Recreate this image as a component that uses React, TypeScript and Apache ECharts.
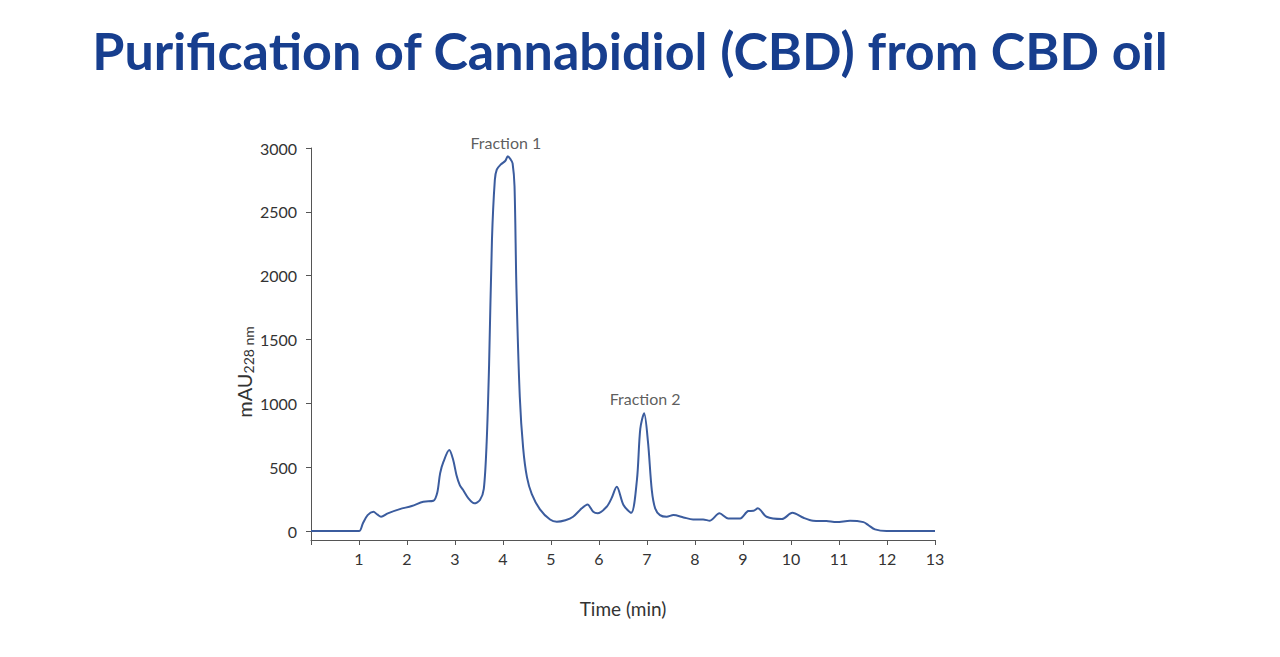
import React, { useEffect, useRef } from "react";
import * as echarts from "echarts";

const TITLE = "Purification of Cannabidiol (CBD) from CBD oil";
const X_NAME = "Time (min)";
const Y_UNIT = "mAU";
const Y_SUB = "228 nm";

const xTicks = [1, 2, 3, 4, 5, 6, 7, 8, 9, 10, 11, 12, 13];
const yTicks = [0, 500, 1000, 1500, 2000, 2500, 3000];

const times = [
  0, 0.5, 1.0, 1.08, 1.18, 1.3, 1.38, 1.46, 1.6, 1.85, 2.1, 2.34, 2.55,
  2.63, 2.69, 2.76, 2.88, 2.96, 3.03, 3.1, 3.17, 3.28, 3.4, 3.52, 3.6,
  3.66, 3.71, 3.77, 3.83, 3.87, 3.95, 4.05, 4.1, 4.16, 4.2, 4.24, 4.28,
  4.35, 4.42, 4.5, 4.6, 4.77, 4.98, 5.12, 5.3, 5.46, 5.64, 5.76, 5.88,
  5.97, 6.16, 6.26, 6.37, 6.51, 6.67, 6.79, 6.86, 6.94, 7.02, 7.1, 7.17,
  7.27, 7.41, 7.55, 7.76, 7.96, 8.17, 8.31, 8.51, 8.69, 8.94, 9.11, 9.22,
  9.31, 9.49, 9.81, 10.03, 10.26, 10.46, 10.74, 10.95, 11.23, 11.51,
  11.61, 11.75, 11.99, 13,
];
const absorbance = [
  0, 0, 0, 60, 125, 151, 130, 112, 139, 172, 196, 230, 237,
  300, 452, 543, 634, 560, 440, 360, 321, 256, 217, 243, 330,
  700, 1300, 2279, 2750, 2830, 2870, 2900, 2935, 2910, 2880, 2700, 1900,
  1050, 650, 420, 290, 170, 90, 73, 85, 112, 178, 209, 151,
  139, 190, 256, 347, 204, 143, 400, 800, 922, 700, 321, 178,
  125, 112, 125, 107, 91, 91, 81, 139, 99, 99, 157, 159,
  178, 112, 94, 143, 104, 81, 78, 70, 81, 70,
  47, 13, 0, 0,
];

const annotations = [
  { label: "Fraction 1", t: 4.06, v: 3040 },
  { label: "Fraction 2", t: 6.96, v: 1042 },
];

const FONT = "Lato, 'Open Sans', sans-serif";

export default function App() {
  const ref = useRef<HTMLDivElement>(null);

  useEffect(() => {
    if (!ref.current) return;
    const chart = echarts.init(ref.current, undefined, { renderer: "svg" });
    const lineData = times.map((t, i) => [t, absorbance[i]]);
    chart.setOption({
      animation: false,
      backgroundColor: "#ffffff",
      textStyle: { fontFamily: FONT },
      graphic: [
        {
          type: "text",
          x: 630,
          y: 50,
          style: {
            text: TITLE,
            fontFamily: FONT,
            fontWeight: "bold",
            fontSize: 52,
            fill: "#173e8e",
            textAlign: "center",
            textVerticalAlign: "middle",
          },
        },
      ],
      grid: { left: 311, right: 345, top: 148, bottom: 117, containLabel: false },
      xAxis: {
        type: "value",
        min: 0,
        max: 13,
        interval: 1,
        name: X_NAME,
        nameLocation: "middle",
        nameGap: 59,
        nameTextStyle: { fontSize: 19, color: "#333", fontFamily: FONT },
        axisLine: { onZero: false, lineStyle: { color: "#555", width: 1 } },
        axisTick: { show: true, length: 5, lineStyle: { color: "#555" } },
        axisLabel: {
          fontSize: 16,
          color: "#333",
          margin: 10,
          fontFamily: FONT,
          formatter: (v: number) => (xTicks.includes(v) ? String(v) : ""),
        },
        splitLine: { show: false },
      },
      yAxis: {
        type: "value",
        min: -70,
        max: 3000,
        name: `{a|${Y_UNIT}}{b|${Y_SUB}}`,
        nameLocation: "middle",
        nameRotate: 90,
        nameGap: 54,
        nameTextStyle: {
          padding: [0, 56, 0, 0],
          rich: {
            a: { fontSize: 20, color: "#333", fontFamily: FONT },
            b: { fontSize: 14, color: "#333", fontFamily: FONT, verticalAlign: "bottom", padding: [10, 0, 0, 0] },
          },
        },
        axisLine: { show: true, lineStyle: { color: "#555", width: 1 } },
        axisTick: { show: true, length: 5, customValues: yTicks, lineStyle: { color: "#555" } },
        axisLabel: {
          fontSize: 16,
          color: "#333",
          margin: 14,
          fontFamily: FONT,
          customValues: yTicks,
          formatter: (v: number) => String(v),
        },
        splitLine: { show: false },
      },
      series: [
        {
          type: "line",
          data: lineData,
          showSymbol: false,
          smooth: 0.3,
          lineStyle: { color: "#3b5c9e", width: 2 },
        },
        {
          type: "scatter",
          clip: false,
          data: annotations.map((a) => ({ value: [a.t, a.v], name: a.label })),
          symbolSize: 0,
          label: {
            show: true,
            position: "inside",
            formatter: (p: any) => p.name,
            fontSize: 16,
            color: "#333",
            fontFamily: FONT,
          },
        },
      ],
    });
    return () => chart.dispose();
  }, []);

  return (
    <div
      ref={ref}
      style={{ position: "fixed", left: 0, top: 0, width: 1280, height: 657 }}
    />
  );
}
